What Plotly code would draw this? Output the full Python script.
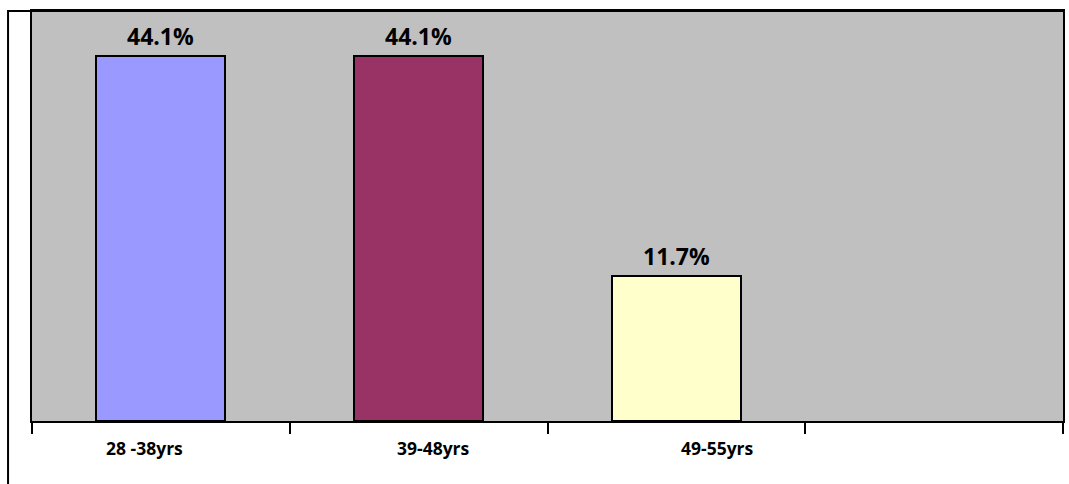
import plotly.graph_objects as go

# Age groups and share of respondents (%)
age_groups = ["28 -38yrs", "39-48yrs", "49-55yrs"]
shares = [44.1, 44.1, 11.7]
bar_colors = ["#9999FF", "#993366", "#FFFFCC"]

n_slots = 4          # the category axis has one trailing empty slot
y_floor, y_top = -9.6, 50.8
label_shift = [-16, 15, 41]
font_family = "Open Sans"

positions = list(range(len(age_groups)))

fig = go.Figure()
fig.add_trace(go.Bar(
    x=positions,
    y=[v - y_floor for v in shares],
    base=y_floor,
    width=0.5,
    marker=dict(color=bar_colors, line=dict(color="black", width=2)),
    hoverinfo="skip",
))

# value labels above each bar
for x, v in zip(positions, shares):
    fig.add_annotation(
        x=x, y=v, xref="x", yref="y",
        text=f"<b>{v:.1f}%</b>", showarrow=False,
        yanchor="bottom", yshift=2,
        font=dict(family=font_family, size=23, color="black"),
    )

# category labels under the axis
for x, name, dx in zip(positions, age_groups, label_shift):
    fig.add_annotation(
        x=x, y=0, xref="x", yref="paper",
        text=f"<b>{name}</b>", showarrow=False,
        yanchor="top", yshift=-13, xshift=dx,
        font=dict(family=font_family, size=17.5, color="black"),
    )

# outer frame: left edge and top edge of the chart area
left_px = (8 - 32) / 1033
fig.add_shape(
    type="path", xref="paper", yref="paper",
    path=f"M {left_px},-0.2 L {left_px},1 L 1,1",
    line=dict(color="black", width=2), layer="below",
)

fig.update_layout(
    width=1069, height=484,
    margin=dict(l=32, r=4, t=11, b=63),
    paper_bgcolor="white",
    plot_bgcolor="#C0C0C0",
    showlegend=False,
    bargap=0,
)
fig.update_xaxes(
    range=[-0.5, n_slots - 0.5],
    tickvals=[i - 0.5 for i in range(n_slots + 1)],
    ticktext=[""] * (n_slots + 1),
    ticks="outside", ticklen=11, tickwidth=2, tickcolor="black",
    showline=True, linecolor="black", linewidth=2, mirror=True,
    showgrid=False, zeroline=False,
)
fig.update_yaxes(
    range=[y_floor, y_top],
    showticklabels=False, ticks="",
    showline=True, linecolor="black", linewidth=2, mirror=True,
    showgrid=False, zeroline=False,
)

fig.write_html("out.html")
